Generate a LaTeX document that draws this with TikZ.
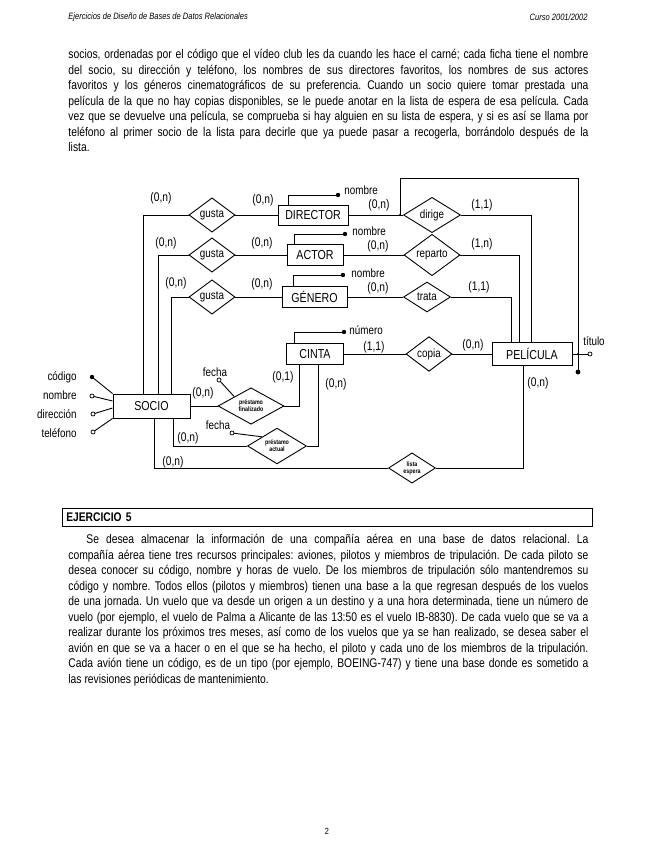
\documentclass[tikz,border=0pt]{standalone}
\usepackage{fontspec}
\setmainfont{Liberation Sans}[FakeStretch=0.82]
\usetikzlibrary{shapes.geometric}
\newcommand{\fline}[1]{\makebox[520pt][s]{#1}}

\begin{document}
\frenchspacing
\begin{tikzpicture}[x=1pt, y=-1pt, line width=0.9pt,
    entidad/.style={draw, rectangle, inner sep=0pt, font=\fontsize{13}{15}\selectfont},
    relacion/.style={draw, diamond, inner sep=0pt, font=\fontsize{12}{13}\selectfont},
    mini/.style={align=center, font=\fontsize{6.5}{7}\selectfont\bfseries},
    card/.style={inner sep=0pt, font=\fontsize{12.5}{13}\selectfont},
    atrib/.style={inner sep=0pt, font=\fontsize{12}{13}\selectfont},
    texto/.style={anchor=north west, inner sep=0pt, align=left, font=\fontsize{12.6}{15.5}\selectfont}]
    \useasboundingbox[fill=white] (0,0) rectangle (655,848);

    \node[anchor=west, inner sep=0pt, font=\fontsize{9.2}{10}\selectfont\itshape] (cabizq) at (68,17) {Ejercicios de Diseño de Bases de Datos Relacionales};
    \node[anchor=east, inner sep=0pt, font=\fontsize{9.2}{10}\selectfont\itshape] (cabder) at (588,17) {Curso 2001/2002};

    \node[texto] (parrafouno) at (68,49) {%
        \fline{socios, ordenadas por el código que el vídeo club les da cuando les hace el carné; cada ficha tiene el nombre}\\
        \fline{del socio, su dirección y teléfono, los nombres de sus directores favoritos, los nombres de sus actores}\\
        \fline{favoritos y los géneros cinematográficos de su preferencia. Cuando un socio quiere tomar prestada una}\\
        \fline{película de la que no hay copias disponibles, se le puede anotar en la lista de espera de esa película. Cada}\\
        \fline{vez que se devuelve una película, se comprueba si hay alguien en su lista de espera, y si es así se llama por}\\
        \fline{teléfono al primer socio de la lista para decirle que ya puede pasar a recogerla, borrándolo después de la}\\
        lista.};

    % entidades
    \node[entidad, minimum width=70pt, minimum height=20pt] (director) at (313,215) {DIRECTOR};
    \node[entidad, minimum width=56pt, minimum height=21pt] (actor) at (315,255) {ACTOR};
    \node[entidad, minimum width=65pt, minimum height=21pt] (genero) at (314.5,297) {GÉNERO};
    \node[entidad, minimum width=57pt, minimum height=21pt] (cinta) at (315,354) {CINTA};
    \node[entidad, minimum width=80pt, minimum height=23pt] (pelicula) at (532,354) {PELÍCULA};
    \node[entidad, minimum width=77pt, minimum height=24pt] (socio) at (151.5,406) {SOCIO};

    % relaciones
    \node[relacion, minimum width=46pt, minimum height=30pt] (gustadir) at (212,215) {gusta};
    \node[relacion, minimum width=46pt, minimum height=30pt] (gustaact) at (212,255) {gusta};
    \node[relacion, minimum width=46pt, minimum height=30pt] (gustagen) at (212,297) {gusta};
    \node[relacion, minimum width=57pt, minimum height=30pt] (dirige) at (432,215) {dirige};
    \node[relacion, minimum width=56pt, minimum height=31pt] (reparto) at (432,255) {reparto};
    \node[relacion, minimum width=47pt, minimum height=30pt] (trata) at (427,297) {trata};
    \node[relacion, minimum width=46pt, minimum height=31pt] (copia) at (429,354) {copia};
    \node[relacion, mini, minimum width=66pt, minimum height=32pt] (prestfin) at (251,406) {préstamo\\finalizado};
    \node[relacion, mini, minimum width=59pt, minimum height=32pt] (prestact) at (277,446) {préstamo\\actual};
    \node[relacion, mini, minimum width=47pt, minimum height=27pt] (lista) at (412,468) {lista\\espera};

    \draw (gustadir.east) -- (director.west);
    \draw (gustaact.east) -- (actor.west);
    \draw (gustagen.east) -- (genero.west);
    \draw (gustadir.west) -| ([xshift=-8.5pt]socio.north);
    \draw (gustaact.west) -| ([xshift=6.5pt]socio.north);
    \draw (gustagen.west) -| ([xshift=19.5pt]socio.north);
    \draw (director.east) -- (dirige.west);
    \draw (actor.east) -- (reparto.west);
    \draw (genero.east) -- (trata.west);
    \draw (dirige.east) -| ([xshift=-1pt]pelicula.north);
    \draw (reparto.east) -| ([xshift=-13pt]pelicula.north);
    \draw (trata.east) -| ([xshift=-21pt]pelicula.north);
    \draw (cinta.east) -- (copia.west);
    \draw (copia.east) -- (pelicula.west);
    \draw (socio.east) -- (prestfin.west);
    \draw (prestfin.east) -| ([xshift=-16pt]cinta.south);
    \draw (prestact.east) -| ([xshift=3pt]cinta.south);
    \draw ([xshift=21.5pt]socio.south) |- (prestact.west);
    \draw ([xshift=2.5pt]socio.south) |- (lista.west);
    \draw (lista.east) -| ([xshift=-9pt]pelicula.south);

    % identificador de pelicula
    \coordinate (dk) at (400,215);
    \coordinate (idtop) at (578,178);
    \coordinate (idcruce) at (578,354);
    \coordinate (idfin) at (578,372);
    \draw (dk) |- (idtop) -- (idfin);
    \fill (dk) circle (1.2pt) (idcruce) circle (1.2pt);
    \fill (idfin) circle (2.4pt);

    % atributos
    \coordinate (dirnom) at (338,195);
    \coordinate (actnom) at (345,234);
    \coordinate (gennom) at (343,275);
    \coordinate (cinnum) at (344,332);
    \coordinate (titulo) at (590,354);
    \coordinate (fechafin) at (219,380);
    \coordinate (fechaact) at (232,433);
    \coordinate (codigo) at (92,377);
    \coordinate (socnom) at (92,396);
    \coordinate (direccion) at (93,414);
    \coordinate (telefono) at (93,432);
    \draw ([xshift=-25pt]director.north) |- (dirnom);
    \draw ([xshift=-21pt]actor.north) |- (actnom);
    \draw ([xshift=-21.5pt]genero.north) |- (gennom);
    \draw ([xshift=-21pt]cinta.north) |- (cinnum);
    \draw (pelicula.east) -- (titulo);
    \draw (fechafin) -- (prestfin.north west);
    \draw (fechaact) -- (prestact.north west);
    \draw (codigo) -- (socio.north west);
    \draw (socnom) -- ([yshift=5pt]socio.west);
    \draw (direccion) -- ([yshift=-2pt]socio.west);
    \draw (telefono) -- (socio.south west);
    \fill (dirnom) circle (2.2pt) (actnom) circle (2.2pt) (gennom) circle (2.2pt) (cinnum) circle (2.2pt) (codigo) circle (2.2pt);
    \draw[fill=white, line width=0.7pt] (titulo) circle (2pt) (fechafin) circle (2pt) (fechaact) circle (2pt)
        (socnom) circle (2pt) (direccion) circle (2pt) (telefono) circle (2pt);

    \node[atrib, anchor=west] (tdirnom) at (344,190) {nombre};
    \node[atrib, anchor=west] (tactnom) at (352,231) {nombre};
    \node[atrib, anchor=west] (tgennom) at (351,273) {nombre};
    \node[atrib, anchor=west] (tcinnum) at (349,330) {número};
    \node[atrib] (ttitulo) at (594,341) {título};
    \node[atrib] (tfechafin) at (215,372) {fecha};
    \node[atrib] (tfechaact) at (218,425) {fecha};
    \node[atrib, anchor=east] (tcodigo) at (77,377) {código};
    \node[atrib, anchor=east] (tsocnom) at (77,395) {nombre};
    \node[atrib, anchor=east] (tdireccion) at (77,414) {dirección};
    \node[atrib, anchor=east] (ttelefono) at (77,433) {teléfono};

    % cardinalidades
    \node[card] (c1) at (161,198) {(0,n)};
    \node[card] (c2) at (263,200) {(0,n)};
    \node[card] (c3) at (166,243) {(0,n)};
    \node[card] (c4) at (262,243) {(0,n)};
    \node[card] (c5) at (176,283) {(0,n)};
    \node[card] (c6) at (262,284) {(0,n)};
    \node[card] (c7) at (379,205) {(0,n)};
    \node[card] (c8) at (482,205) {(1,1)};
    \node[card] (c9) at (378,246) {(0,n)};
    \node[card] (c10) at (482,244) {(1,n)};
    \node[card] (c11) at (378,288) {(0,n)};
    \node[card] (c12) at (479,287) {(1,1)};
    \node[card] (c13) at (374,347) {(1,1)};
    \node[card] (c14) at (473,345) {(0,n)};
    \node[card] (c15) at (203,393) {(0,n)};
    \node[card] (c16) at (283,377) {(0,1)};
    \node[card] (c17) at (336,384) {(0,n)};
    \node[card] (c18) at (188,438) {(0,n)};
    \node[card] (c19) at (173,462) {(0,n)};
    \node[card] (c20) at (538,383) {(0,n)};

    \node[draw, line width=0.7pt, anchor=west, minimum width=530pt, minimum height=18pt, text width=522pt, inner xsep=4pt,
        align=left, font=\fontsize{12.5}{13}\selectfont\bfseries] (ejercicio) at (62,517) {EJERCICIO 5};

    \node[texto] (parrafodos) at (68,534) {%
        \fline{\hspace*{18pt}Se desea almacenar la información de una compañía aérea en una base de datos relacional. La}\\
        \fline{compañía aérea tiene tres recursos principales: aviones, pilotos y miembros de tripulación. De cada piloto se}\\
        \fline{desea conocer su código, nombre y horas de vuelo. De los miembros de tripulación sólo mantendremos su}\\
        \fline{código y nombre. Todos ellos (pilotos y miembros) tienen una base a la que regresan después de los vuelos}\\
        \fline{de una jornada. Un vuelo que va desde un origen a un destino y a una hora determinada, tiene un número de}\\
        \fline{vuelo (por ejemplo, el vuelo de Palma a Alicante de las 13:50 es el vuelo IB-8830). De cada vuelo que se va a}\\
        \fline{realizar durante los próximos tres meses, así como de los vuelos que ya se han realizado, se desea saber el}\\
        \fline{avión en que se va a hacer o en el que se ha hecho, el piloto y cada uno de los miembros de la tripulación.}\\
        \fline{Cada avión tiene un código, es de un tipo (por ejemplo, BOEING-747) y tiene una base donde es sometido a}\\
        las revisiones periódicas de mantenimiento.};

    \node[font=\fontsize{9}{10}\selectfont] (pagina) at (327,831) {2};
\end{tikzpicture}
\end{document}
